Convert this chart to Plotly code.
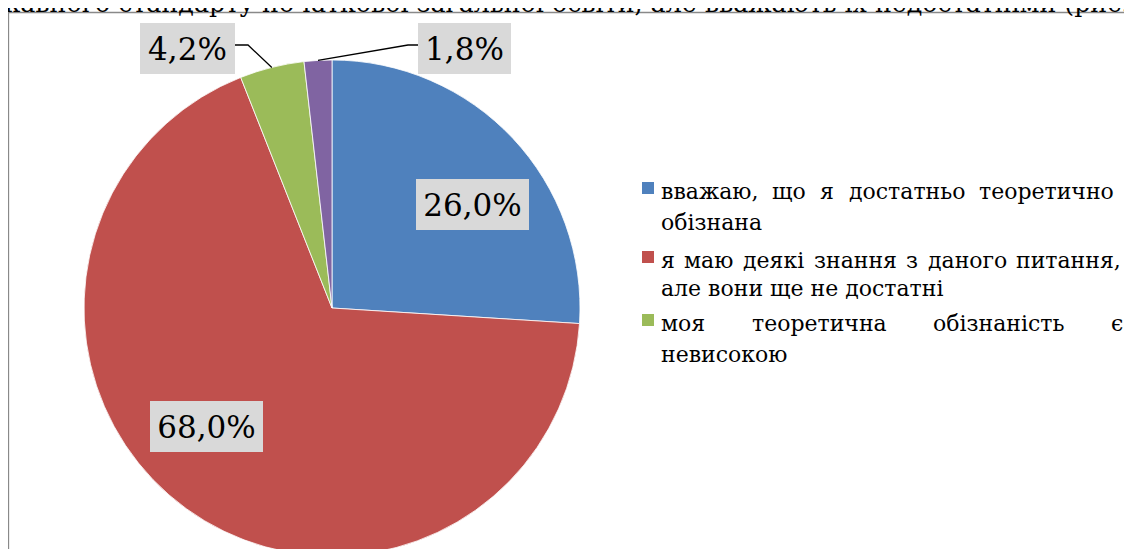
import math
import os
import struct
import plotly.graph_objects as go

W, H = 1132, 549
OFF = 8  # page margin of the browser body (screen px = figure px + OFF)

# ---------------- data ----------------
labels = [
    "вважаю, що я достатньо теоретично обізнана",
    "я маю деякі знання з даного питання, але вони ще не достатні",
    "моя теоретична обізнаність є невисокою",
    "інше",
]
values = [26.0, 68.0, 4.2, 1.8]
colors = ["#4F81BD", "#C0504D", "#9BBB59", "#8064A2"]

legend_lines = [
    ["вважаю, що я достатньо теоретично", "обізнана"],
    ["я маю деякі знання з даного питання,", "але вони ще не достатні"],
    ["моя теоретична обізнаність є", "невисокою"],
]
page_text = "жавного стандарту початкової загальної освіти, але вважають їх недостатніми (рис."

# ---------------- layout / style (screen pixels) ----------------
cx, cy, R = 332.0, 308.0, 248.0

label_centers = [(472.5, 203.5), (206.5, 425.5), (187.5, 47.0), (464.5, 47.0)]
label_widths = [113, 113, 95, 93]
label_height = 51
label_font = 31

legend_square_x = 642
legend_square_size = 12
legend_text_x = 661
legend_right = [1114, 1121, 1123]          # anchor of the last word of the justified lines
legend_line_y = [[191, 222], [260, 288], [323, 354]]  # x-height centres
legend_font = 22

page_left, page_right, page_baseline = -3, 1130, 12

FONT = "DejaVu Serif"
FONT_FILE = "DejaVuSerif.ttf"


def px(x):
    return (x - OFF) / W


def py(y):
    return 1 - (y - OFF) / H


# ---------- text measuring from the font file (for justified lines) ----------
def make_measurer():
    path = None
    roots = ["/usr/share/fonts", "/usr/local/share/fonts",
             os.path.expanduser("~/.fonts"), os.path.expanduser("~/.local/share/fonts")]
    for root in roots:
        if path:
            break
        for dp, dn, fn in os.walk(root):
            if FONT_FILE in fn:
                path = os.path.join(dp, FONT_FILE)
                break
    try:
        with open(path, "rb") as f:
            data = f.read()
        ntab = struct.unpack(">H", data[4:6])[0]
        tables = {}
        for i in range(ntab):
            tag, _cs, off, _ln = struct.unpack(">4sIII", data[12 + 16 * i:28 + 16 * i])
            tables[tag.decode("latin-1")] = off
        head = tables["head"]
        upem = struct.unpack(">H", data[head + 18:head + 20])[0]
        hhea = tables["hhea"]
        nhm = struct.unpack(">H", data[hhea + 34:hhea + 36])[0]
        hmtx = tables["hmtx"]
        adv = [struct.unpack(">H", data[hmtx + 4 * i:hmtx + 4 * i + 2])[0] for i in range(nhm)]
        cmap = tables["cmap"]
        nsub = struct.unpack(">H", data[cmap + 2:cmap + 4])[0]
        sub = None
        for i in range(nsub):
            pid, eid, off = struct.unpack(">HHI", data[cmap + 4 + 8 * i:cmap + 12 + 8 * i])
            fmt = struct.unpack(">H", data[cmap + off:cmap + off + 2])[0]
            if fmt == 4 and (pid == 3 and eid == 1 or pid == 0):
                sub = cmap + off
                if pid == 3:
                    break
        o = sub
        segx2 = struct.unpack(">H", data[o + 6:o + 8])[0]
        seg = segx2 // 2
        ends = struct.unpack(f">{seg}H", data[o + 14:o + 14 + segx2])
        starts = struct.unpack(f">{seg}H", data[o + 16 + segx2:o + 16 + 2 * segx2])
        deltas = struct.unpack(f">{seg}h", data[o + 16 + 2 * segx2:o + 16 + 3 * segx2])
        ro_pos = o + 16 + 3 * segx2
        ros = struct.unpack(f">{seg}H", data[ro_pos:ro_pos + segx2])

        def gid(c):
            for i in range(seg):
                if ends[i] >= c:
                    if starts[i] > c:
                        return 0
                    if ros[i] == 0:
                        return (c + deltas[i]) & 0xFFFF
                    addr = ro_pos + 2 * i + ros[i] + 2 * (c - starts[i])
                    g = struct.unpack(">H", data[addr:addr + 2])[0]
                    return (g + deltas[i]) & 0xFFFF if g else 0
            return 0

        def measure(text, size):
            tot = 0
            for ch in text:
                g = gid(ord(ch))
                tot += adv[min(g, nhm - 1)]
            return tot / upem * size
        return measure
    except Exception:
        return lambda text, size: len(text) * 0.56 * size


measure = make_measurer()
ASC_DESC_SHIFT = 0.346  # (ascent - descent)/2 in em for DejaVu Serif


fig = go.Figure()
fig.add_trace(go.Pie(
    labels=labels,
    values=values,
    sort=False,
    direction="clockwise",
    rotation=0,
    marker=dict(colors=colors, line=dict(color="white", width=0.8)),
    textinfo="none",
    hoverinfo="label+percent",
    showlegend=False,
    domain=dict(x=[px(cx - R), px(cx + R)], y=[max(0, py(cy + R)), py(cy - R)]),
))

annotations = []
shapes = []

# value labels
total = sum(values)
for i, v in enumerate(values):
    txt = f"{v / total * 100:.1f}%".replace(".", ",")
    lx, ly = label_centers[i]
    annotations.append(dict(
        x=px(lx), y=py(ly + 1), xref="paper", yref="paper",
        text=txt, showarrow=False, xanchor="center", yanchor="middle",
        width=label_widths[i], height=label_height, borderpad=0, borderwidth=0,
        bgcolor="#D9D9D9", font=dict(family=FONT, size=label_font, color="black"),
    ))

# leader lines for the small slices (from slice mid-angle on the rim)
cum = 0.0
mids = []
for v in values:
    mids.append((cum + v / 2) / total * 2 * math.pi)
    cum += v
for i in (2, 3):
    a = mids[i]
    rx = cx + R * math.sin(a)
    ry = cy - R * math.cos(a)
    lx, ly = label_centers[i]
    if i == 2:
        edge = lx + label_widths[i] / 2
        kink = edge + 13
    else:
        edge = lx - label_widths[i] / 2
        kink = edge - 10
    yline = ly - 2
    path = f"M {px(rx)} {py(ry)} L {px(kink)} {py(yline)} L {px(edge)} {py(yline)}"
    shapes.append(dict(type="path", path=path, xref="paper", yref="paper",
                       line=dict(color="black", width=1.3)))


def add_text(text, x, y_xcenter, size, anchor="left"):
    annotations.append(dict(
        x=px(x), y=py(y_xcenter + 0.5), xref="paper", yref="paper",
        text=text, showarrow=False, xanchor=anchor, yanchor="middle",
        borderpad=0, borderwidth=0,
        font=dict(family=FONT, size=size, color="black"),
    ))


# manual legend (three entries), first line of each entry justified
for i, lines in enumerate(legend_lines):
    sq_c = legend_line_y[i][0] - 3
    shapes.append(dict(type="rect", xref="paper", yref="paper",
                       x0=px(legend_square_x), x1=px(legend_square_x + legend_square_size),
                       y0=py(sq_c + legend_square_size / 2), y1=py(sq_c - legend_square_size / 2),
                       fillcolor=colors[i], line=dict(width=0)))
    words = lines[0].split(" ")
    wlens = [measure(w, legend_font) for w in words]
    n = len(words)
    gap = (legend_right[i] - legend_text_x - sum(wlens)) / (n - 1)
    x = legend_text_x
    for k, (w, wl) in enumerate(zip(words, wlens)):
        if k == 0:
            add_text(w, legend_text_x, legend_line_y[i][0], legend_font, "left")
        elif k == n - 1:
            add_text(w, legend_right[i], legend_line_y[i][0], legend_font, "right")
        else:
            add_text(w, x + wl / 2, legend_line_y[i][0], legend_font, "center")
        x += wl + gap
    add_text(lines[1], legend_text_x, legend_line_y[i][1], legend_font, "left")

# cut-off page text above the chart frame (only its lower part is visible)
unit = measure(page_text, 1.0)
page_size = (page_right - page_left) / unit
annotations.append(dict(
    x=px(page_left), y=py(page_baseline - ASC_DESC_SHIFT * page_size), xref="paper", yref="paper",
    text=page_text, showarrow=False, xanchor="left", yanchor="middle",
    borderpad=0, borderwidth=0,
    font=dict(family=FONT, size=page_size, color="black"),
))

# chart frame
shapes.append(dict(type="rect", xref="paper", yref="paper",
                   x0=px(8.5), y0=py(H + 20), x1=px(W + 20), y1=py(12.5),
                   line=dict(color="#898989", width=1.3), layer="below"))

fig.update_layout(
    width=W, height=H,
    margin=dict(l=0, r=0, t=0, b=0),
    paper_bgcolor="white", plot_bgcolor="white",
    font=dict(family=FONT),
    showlegend=False,
    annotations=annotations,
    shapes=shapes,
)

fig.write_html("out.html")
